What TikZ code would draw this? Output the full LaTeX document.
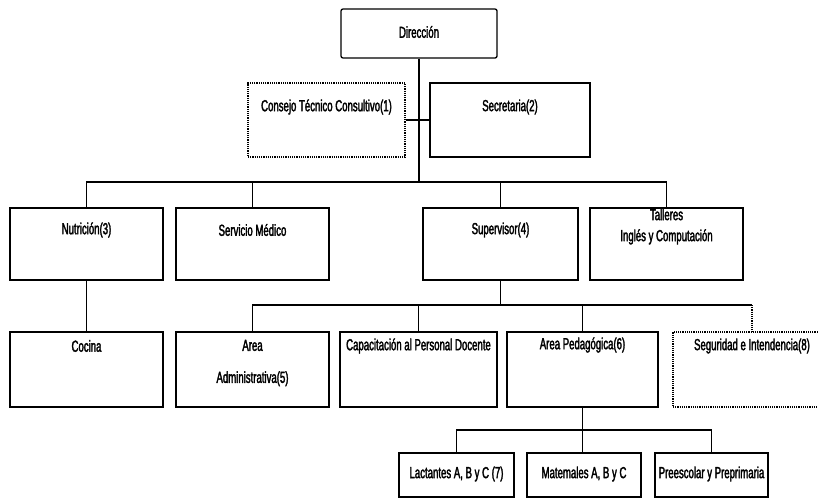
\documentclass[tikz,border=0pt]{standalone}
\usepackage{fontspec}
\setmainfont{Liberation Sans}[FakeStretch=0.6,FakeBold=2]
\begin{document}
\begin{tikzpicture}[x=1pt,y=-1pt,
  box/.style={draw, line width=1.3pt, inner sep=0pt},
  dotbox/.style={draw, line width=1.2pt, densely dotted, inner sep=0pt},
  conn/.style={line width=1.3pt},
  dotconn/.style={line width=1.2pt, densely dotted},
  lbl/.style={font=\fontsize{16}{18}\selectfont, inner sep=0pt, align=center}]
\useasboundingbox[fill=white] (0,0) rectangle (818,501);

% level 1
\node[box, rounded corners=2pt, minimum width=156pt, minimum height=49pt] (dir) at (419,33.5) {};
\node[lbl] (tdir) at (419,32) {Dirección};

% level 2
\node[dotbox, minimum width=157pt, minimum height=74pt] (con) at (326.5,120) {};
\node[lbl] (tcon) at (326.5,107) {Consejo Técnico Consultivo(1)};
\node[box, minimum width=160pt, minimum height=74pt] (sec) at (510,120) {};
\node[lbl] (tsec) at (510,107) {Secretaria(2)};

% level 3
\node[box, minimum width=153pt, minimum height=72pt] (nut) at (86.5,244) {};
\node[lbl] (tnut) at (86.5,230) {Nutrición(3)};
\node[box, minimum width=153pt, minimum height=72pt] (ser) at (252.5,244) {};
\node[lbl] (tser) at (252.5,230) {Servicio Médico};
\node[box, minimum width=155pt, minimum height=72pt] (sup) at (500.5,244) {};
\node[lbl] (tsup) at (500.5,230) {Supervisor(4)};
\node[box, minimum width=153pt, minimum height=72pt] (tal) at (666.5,244) {};
\node[lbl, font=\fontsize{16}{21}\selectfont] (ttal) at (666.5,226.5) {Talleres\\Inglés y Computación};

% level 4
\node[box, minimum width=153pt, minimum height=75pt] (coc) at (86.5,369.5) {};
\node[lbl] (tcoc) at (86.5,346) {Cocina};
\node[box, minimum width=153pt, minimum height=75pt] (adm) at (252.5,369.5) {};
\node[lbl, font=\fontsize{16}{32}\selectfont] (tadm) at (252.5,363) {Area\\Administrativa(5)};
\node[box, minimum width=157pt, minimum height=75pt] (cap) at (418.5,369.5) {};
\node[lbl] (tcap) at (418.5,346) {Capacitación al Personal Docente};
\node[box, minimum width=151pt, minimum height=75pt] (ped) at (582.5,369.5) {};
\node[lbl] (tped) at (582.5,345) {Area Pedagógica(6)};
\node[dotbox, minimum width=190pt, minimum height=75pt] (seg) at (768,369.5) {};
\coordinate (segtop) at (752,332);
\node[lbl] (tseg) at (752,346) {Seguridad e Intendencia(8)};

% level 5
\node[box, minimum width=115pt, minimum height=44pt] (lac) at (456.5,475) {};
\node[lbl] (tlac) at (456.5,474) {Lactantes A, B y C (7)};
\node[box, minimum width=114pt, minimum height=44pt] (mat) at (584,475) {};
\node[lbl] (tmat) at (584,474) {Matemales A, B y C};
\node[box, minimum width=113pt, minimum height=44pt] (pre) at (711.5,475) {};
\node[lbl] (tpre) at (711.5,474) {Preescolar y Preprimaria};

% connectors
\coordinate (b1) at (418.5,182);
\coordinate (b2) at (500.5,305);
\coordinate (b3) at (582.5,430);
\draw[conn] (dir.south) -- (dir.south |- b1);
\draw[conn] (con.east) -- (sec.west);
\draw[conn] (nut.north) |- (b1) -| (tal.north);
\draw[conn] (ser.north) -- (ser.north |- b1);
\draw[conn] (sup.north) -- (sup.north |- b1);

\draw[conn] (nut.south) -- (coc.north);
\draw[conn] (sup.south) -- (b2);
\draw[conn] (adm.north) |- (b2) -- (b2 -| segtop);
\draw[dotconn] (b2 -| segtop) -- (segtop);
\draw[conn] (cap.north) -- (cap.north |- b2);
\draw[conn] (ped.north) -- (ped.north |- b2);

\draw[conn] (ped.south) -- (ped.south |- mat.north);
\draw[conn] (lac.north) |- (b3) -| (pre.north);
\end{tikzpicture}
\end{document}
